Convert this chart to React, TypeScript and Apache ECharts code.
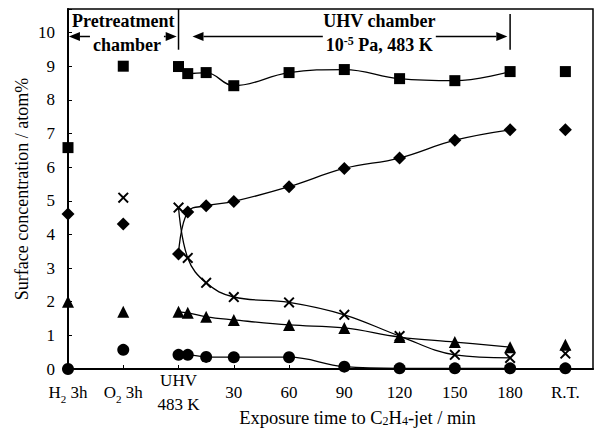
import React, { useEffect, useRef } from "react";
import * as echarts from "echarts";

const FONT = "'Liberation Serif', 'Times New Roman', serif";

// Exposure times (min) of the connected points in the UHV chamber
const minutes = [0, 5, 15, 30, 60, 90, 120, 150, 180];
// Stand-alone columns: H2 3h, O2 3h, R.T.
const sideX = [-60, -30, 210];

// Axis tick positions and their labels
const tickValues = [-60, -30, 0, 30, 60, 90, 120, 150, 180, 210];
const tickLabels = ["H{s|2} 3h", "O{s|2} 3h", "UHV\n483 K", "30", "60", "90", "120", "150", "180", "R.T."];

// Surface concentrations (atom%)
const squareTime = [8.99, 8.78, 8.81, 8.42, 8.81, 8.9, 8.63, 8.57, 8.84];
const squareSide = [6.58, 9.0, 8.84];
const diamondTime = [3.42, 4.67, 4.85, 4.98, 5.42, 5.96, 6.27, 6.8, 7.11];
const diamondSide = [4.61, 4.31, 7.11];
const crossTime = [4.8, 3.3, 2.56, 2.14, 1.98, 1.61, 0.98, 0.42, 0.33];
const crossSide: (number | null)[] = [null, 5.09, 0.46];
const triangleTime = [1.7, 1.67, 1.55, 1.46, 1.31, 1.22, 0.95, 0.8, 0.65];
const triangleSide = [2.0, 1.7, 0.72];
const circleTime = [0.42, 0.42, 0.36, 0.35, 0.35, 0.07, 0.02, 0.02, 0.02];
const circleSide = [0.0, 0.57, 0.02];

const CROSS =
  "path://M0,1.5L1.5,0L6,4.5L10.5,0L12,1.5L7.5,6L12,10.5L10.5,12L6,7.5L1.5,12L0,10.5L4.5,6Z";

function pairs(xs: number[], ys: (number | null)[]) {
  const out: number[][] = [];
  xs.forEach((x, i) => {
    const y = ys[i];
    if (y !== null && y !== undefined) out.push([x, y]);
  });
  return out;
}

type Marker = { name: string; symbol: string; size: number | number[]; time: number[]; side: (number | null)[] };

const markers: Marker[] = [
  { name: "square", symbol: "rect", size: 11, time: squareTime, side: squareSide },
  { name: "diamond", symbol: "diamond", size: 13, time: diamondTime, side: diamondSide },
  { name: "cross", symbol: CROSS, size: 11, time: crossTime, side: crossSide },
  { name: "triangle", symbol: "triangle", size: 12, time: triangleTime, side: triangleSide },
  { name: "circle", symbol: "circle", size: 12, time: circleTime, side: circleSide },
];

export default function App() {
  const ref = useRef<HTMLDivElement>(null);

  useEffect(() => {
    if (!ref.current) return;
    const chart = echarts.init(ref.current, undefined, { renderer: "svg" });

    const series: any[] = [];
    markers.forEach((m) => {
      series.push({
        name: m.name,
        type: "line",
        data: pairs(minutes, m.time),
        smooth: 0.4,
        symbol: m.symbol,
        symbolSize: m.size,
        showAllSymbol: true,
        itemStyle: { color: "#000", opacity: 1 },
        lineStyle: { color: "#000", width: 1.3 },
      });
      series.push({
        name: m.name + " (separate)",
        type: "scatter",
        data: pairs(sideX, m.side),
        symbol: m.symbol,
        symbolSize: m.size,
        itemStyle: { color: "#000", opacity: 1 },
      });
    });

    const subRich = {
      s: { fontSize: 11, fontFamily: FONT, color: "#000", verticalAlign: "bottom", lineHeight: 12 },
    };
    const nameSubRich = {
      s: { fontSize: 12, fontFamily: FONT, color: "#000", verticalAlign: "bottom", lineHeight: 12 },
    };

    chart.setOption({
      animation: false,
      backgroundColor: "#fff",
      grid: {
        left: 68,
        right: 4,
        top: 9,
        bottom: 60,
        containLabel: false,
        outerBoundsMode: "none",
        show: true,
        borderColor: "#000",
        borderWidth: 1.5,
      },
      xAxis: {
        type: "value",
        min: -60,
        max: 225,
        interval: 30,
        splitLine: { show: false },
        axisLine: { show: true, onZero: false, lineStyle: { color: "#000", width: 2 } },
        axisTick: { show: true, inside: true, length: 4, lineStyle: { color: "#000" } },
        axisLabel: {
          margin: 23,
          verticalAlign: "middle",
          fontSize: 17,
          lineHeight: 24,
          fontFamily: FONT,
          color: "#000",
          showMaxLabel: false,
          formatter: (v: number) => {
            const i = tickValues.indexOf(v);
            return i >= 0 ? tickLabels[i] : "";
          },
          rich: subRich,
        },
        name: "Exposure time to C{s|2}H{s|4}-jet / min",
        nameLocation: "middle",
        nameGap: 39,
        nameMoveOverlap: false,
        nameTextStyle: {
          fontSize: 18.5,
          fontFamily: FONT,
          color: "#000",
          padding: [0, 0, 0, 54],
          rich: nameSubRich,
        },
      },
      yAxis: {
        type: "value",
        min: 0,
        max: 10.7,
        interval: 1,
        splitLine: { show: false },
        axisLine: { show: true, onZero: false, lineStyle: { color: "#000", width: 2 } },
        axisTick: { show: true, inside: true, length: 4, lineStyle: { color: "#000" } },
        axisLabel: {
          margin: 13,
          fontSize: 17,
          fontFamily: FONT,
          color: "#000",
          formatter: (v: number) => (Number.isInteger(v) ? String(v) : ""),
        },
        name: "Surface concentration / atom%",
        nameLocation: "middle",
        nameGap: 37,
        nameMoveOverlap: false,
        nameTextStyle: { fontSize: 18, fontFamily: FONT, color: "#000" },
      },
      series,
    });

    // Chamber annotations placed in data coordinates
    const px = (x: number, y: number) => chart.convertToPixel({ gridIndex: 0 }, [x, y]) as number[];
    const arrowY = 9.88;
    const stroke = { stroke: "#000", lineWidth: 1.5 };
    const vline = (x: number, y0: number, y1: number) => {
      const a = px(x, y0);
      const b = px(x, y1);
      return { type: "line", shape: { x1: a[0], y1: a[1], x2: b[0], y2: b[1] }, style: stroke };
    };
    const arrow = (x0: number, x1: number) => {
      const a = px(x0, arrowY);
      const b = px(x1, arrowY);
      const y = a[1];
      const L = 11;
      const H = 4.5;
      return [
        { type: "line", shape: { x1: a[0] + L, y1: y, x2: b[0] - L, y2: y }, style: stroke },
        { type: "polygon", shape: { points: [[a[0], y], [a[0] + L, y - H], [a[0] + L, y + H]] }, style: { fill: "#000" } },
        { type: "polygon", shape: { points: [[b[0], y], [b[0] - L, y - H], [b[0] - L, y + H]] }, style: { fill: "#000" } },
      ];
    };
    const label = (x: number, y: number, text: string, bg: boolean) => {
      const p = px(x, y);
      return {
        type: "text",
        x: p[0],
        y: p[1],
        z: 10,
        style: {
          text,
          align: "center",
          verticalAlign: "middle",
          font: `bold 18px ${FONT}`,
          fill: "#000",
          lineHeight: 20,
          backgroundColor: bg ? "#fff" : undefined,
          padding: bg ? [2, 3, 0, 3] : 0,
          rich: {
            sup: { font: `bold 12px ${FONT}`, fill: "#000", verticalAlign: "top", lineHeight: 14 },
          },
        },
      };
    };

    chart.setOption({
      graphic: [
        vline(0, 10.7, 9.49),
        vline(180, 10.55, 9.49),
        ...arrow(-59.5, -1),
        ...arrow(7.6, 178.5),
        label(-30, 10.33, "Pretreatment", false),
        label(-28, 9.67, "chamber", true),
        label(109, 10.33, "UHV chamber", false),
        label(109, 9.67, "10{sup|-5} Pa, 483 K", true),
      ],
    });

    return () => chart.dispose();
  }, []);

  return (
    <div
      ref={ref}
      style={{ position: "fixed", left: 0, top: 0, width: 597, height: 429, background: "#fff" }}
    />
  );
}
